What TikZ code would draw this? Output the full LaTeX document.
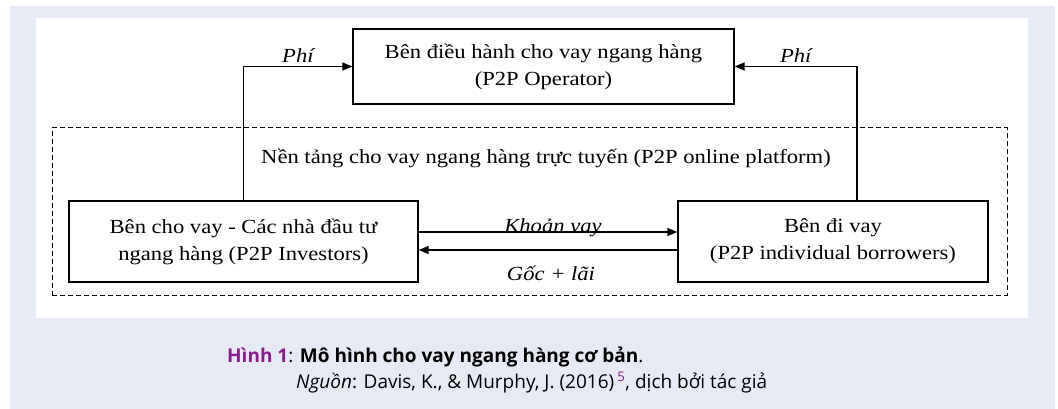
\documentclass[tikz,border=0pt]{standalone}
\usepackage{fontspec}
\setmainfont{Liberation Serif}[FakeStretch=1.13]
\newfontfamily\captfont{Open Sans}
\usetikzlibrary{arrows.meta, positioning}
\definecolor{pagebg}{HTML}{E6EAF5}
\definecolor{figpurple}{HTML}{8E1B8F}
\newcommand\diagsize{\fontsize{20}{27}\selectfont}
\newcommand\captsize{\fontsize{19}{22}\selectfont}
\newcommand\arry{9.5pt}

\begin{document}
\begin{tikzpicture}[x=1pt, y=-1pt, font=\diagsize,
    box/.style={rectangle, draw, line width=1.3pt, inner sep=0pt, align=center},
    link/.style={line width=1.3pt, -{Triangle[length=10pt, width=8pt]}}]

    \useasboundingbox (0,0) rectangle (1058,409);

    % Background
    \fill[pagebg] (10,6) rectangle (1055,409);
    \fill[white] (36,18) rectangle (1028,318);

    % Platform
    \node at (529.5, 211.5) [rectangle, draw, line width=1pt, dash pattern=on 5pt off 3pt, minimum width=955pt, minimum height=167pt] (platform) {};
    \node at (546, 158) (platformtext) {Nền tảng cho vay ngang hàng trực tuyến (P2P online platform)};

    % Operator
    \node at (543.5, 66.5) [box, minimum width=381pt, minimum height=75pt] (op) {Bên điều hành cho vay ngang hàng\\(P2P Operator)};

    % Investors and borrowers
    \node at (243.5, 241.5) [box, minimum width=349pt, minimum height=81pt] (inv) {Bên cho vay - Các nhà đầu tư\\ngang hàng (P2P Investors)};
    \node at (833, 241.5) [box, minimum width=310pt, minimum height=81pt] (bor) {Bên đi vay\\(P2P individual borrowers)};

    \draw[link] (inv.north) |- (op.west) node[pos=0.75, above, inner sep=3pt] {\itshape Phí};
    \draw[link] ([xshift=24pt]bor.north) |- (op.east) node[pos=0.75, above, inner sep=3pt] {\itshape Phí};
    \draw[link] ([yshift=\arry]inv.east) -- ([yshift=\arry]bor.west) node[midway, anchor=base, xshift=5pt] {\itshape Khoản vay};
    \draw[link] ([yshift=-8.5pt]bor.west) -- ([yshift=-8.5pt]inv.east) node[midway, anchor=base, yshift=-30pt, xshift=3pt] {\itshape Gốc + lãi};

    % Caption
    \node at (227, 362) [anchor=base west, font=\captfont\captsize, inner sep=0pt] (capt1) {\textcolor{figpurple}{\bfseries Hình 1}: \textbf{Mô hình cho vay ngang hàng cơ bản}.};
    \node at (296, 388) [anchor=base west, font=\captfont\captsize, inner sep=0pt] (capt2) {\textit{Nguồn}: Davis, K., \& Murphy, J. (2016)\,\textsuperscript{\textcolor{figpurple}{5}}, dịch bởi tác giả};

\end{tikzpicture}
\end{document}
